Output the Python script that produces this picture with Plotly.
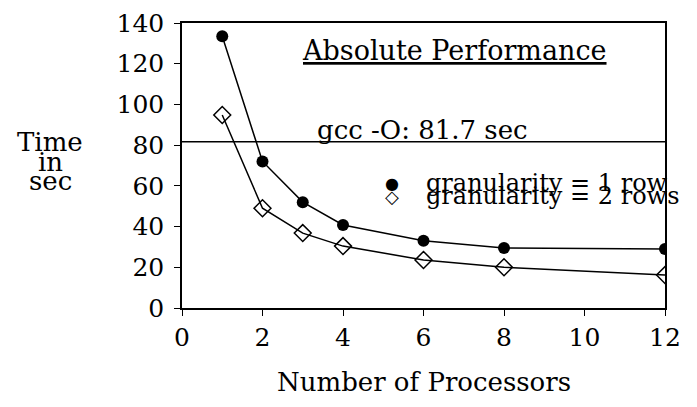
import plotly.graph_objects as go

processors = [1, 2, 3, 4, 6, 8, 12]
gran1_row = [133.5, 72.0, 52.0, 40.8, 33.0, 29.5, 29.0]
gran2_rows = [94.8, 49.0, 36.8, 30.4, 23.6, 20.0, 16.2]
gcc_time = 81.7
x_ticks = [0, 2, 4, 6, 8, 10, 12]
y_ticks = [0, 20, 40, 60, 80, 100, 120, 140]

FONT = "DejaVu Serif"
FS = 25
T, B, L, R, W, H = 15, 99, 174, 32, 689, 399
PH = H - T - B

fig = go.Figure()
fig.add_trace(go.Scatter(x=processors, y=gran1_row, mode="lines+markers",
                         line=dict(color="black", width=1.5),
                         marker=dict(symbol="circle", size=12, color="black"),
                         name="granularity = 1 row", showlegend=False))
fig.add_trace(go.Scatter(x=processors, y=gran2_rows, mode="lines+markers",
                         line=dict(color="black", width=1.5),
                         marker=dict(symbol="diamond-open", size=13, color="black",
                                     line=dict(width=1.5)),
                         name="granularity = 2 rows", showlegend=False))
fig.add_shape(type="line", xref="paper", x0=0, x1=1, yref="y", y0=gcc_time, y1=gcc_time,
              line=dict(color="black", width=1.5))

ann = []
ann.append(dict(text="<u>Absolute Performance</u>", xref="paper", yref="paper",
                x=0.565, y=0.905, xanchor="center", yanchor="middle",
                showarrow=False, font=dict(size=27, family=FONT, color="black")))
ann.append(dict(text="gcc -O: 81.7 sec", xref="x", yref="y", x=3.3, y=gcc_time - 2.5,
                xanchor="left", yanchor="bottom",
                showarrow=False, font=dict(size=26, family=FONT, color="black")))
ann.append(dict(text="●", xref="x", yref="y", x=5.22, y=61.4, xanchor="center",
                yanchor="middle", showarrow=False, font=dict(size=16, family="DejaVu Sans", color="black")))
ann.append(dict(text="◇", xref="x", yref="y", x=5.22, y=55.0, xanchor="center",
                yanchor="middle", showarrow=False, font=dict(size=18, family="DejaVu Sans", color="black")))
ann.append(dict(text="granularity = 1 row", xref="x", yref="y", x=6.0, y=61.4,
                xanchor="left", yanchor="middle", showarrow=False,
                font=dict(size=24, family=FONT, color="black")))
ann.append(dict(text="granularity = 2 rows", xref="x", yref="y", x=6.0, y=55.0,
                xanchor="left", yanchor="middle", showarrow=False,
                font=dict(size=24, family=FONT, color="black")))
for t, yy in [("Time", 134), ("in", 154), ("sec", 173)]:
    ann.append(dict(text=t, xref="paper", yref="paper", x=-0.273,
                    y=1 - (yy - T) / PH, xanchor="center", yanchor="middle",
                    showarrow=False, font=dict(size=26, family=FONT, color="black")))
ann.append(dict(text="Number of Processors", xref="paper", yref="paper", x=0.5,
                y=(H - B - 374) / PH, xanchor="center", yanchor="middle",
                showarrow=False, font=dict(size=26, family=FONT, color="black")))

fig.update_layout(
    width=W, height=H,
    margin=dict(l=L, r=R, t=T, b=B),
    paper_bgcolor="white", plot_bgcolor="white",
    font=dict(family=FONT, size=FS, color="black"),
    annotations=ann,
    xaxis=dict(range=[0, 12], tickvals=x_ticks, showgrid=False, zeroline=False,
               showline=True, linecolor="black", linewidth=1.5, mirror=True,
               ticks="outside", ticklen=6, tickcolor="black", automargin=False,
               tickfont=dict(size=FS, family=FONT, color="black")),
    yaxis=dict(range=[0, 140], tickvals=y_ticks, showgrid=False, zeroline=False,
               showline=True, linecolor="black", linewidth=1.5, mirror=True,
               ticks="outside", ticklen=6, tickcolor="black", automargin=False,
               ticklabelstandoff=5,
               tickfont=dict(size=FS, family=FONT, color="black")),
)
fig.write_html("out.html")
